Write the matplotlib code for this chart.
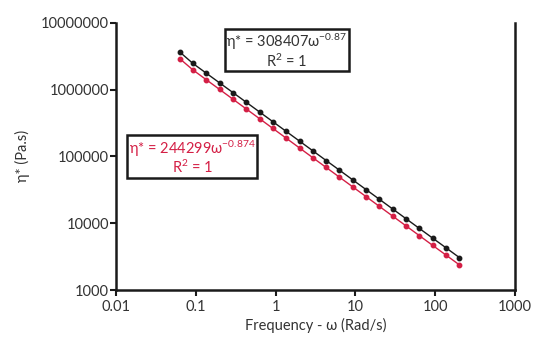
import matplotlib
matplotlib.use("Agg")
import matplotlib.pyplot as plt
from matplotlib.ticker import FixedLocator, FixedFormatter, NullLocator

plt.rcParams['font.family'] = ['Lato', 'DejaVu Sans']
plt.rcParams['mathtext.fontset'] = 'custom'
plt.rcParams['mathtext.rm'] = 'Lato'
plt.rcParams['mathtext.it'] = 'Lato:italic'

freq = [0.0628, 0.0922, 0.1354, 0.1989, 0.2920, 0.4289, 0.6298, 0.9249, 1.358, 1.994,
        2.929, 4.301, 6.316, 9.275, 13.62, 20.00, 29.37, 43.13, 63.34, 93.01, 136.6, 200.6]
eta_black = [3.65e6, 2.452e6, 1.755e6, 1.256e6, 9.01e5, 6.45e5, 4.61e5, 3.30e5, 2.363e5, 1.691e5,
             1.210e5, 8.66e4, 6.21e4, 4.44e4, 3.18e4, 2.276e4, 1.629e4, 1.166e4, 8.34e3, 5.97e3,
             4.28e3, 3.06e3]
eta_red = [2.90e6, 1.962e6, 1.401e6, 1.002e6, 7.17e5, 5.12e5, 3.66e5, 2.616e5, 1.870e5, 1.336e5,
           9.54e4, 6.82e4, 4.88e4, 3.49e4, 2.494e4, 1.782e4, 1.274e4, 9.10e3, 6.51e3, 4.65e3,
           3.33e3, 2.38e3]

x_ticks = [0.01, 0.1, 1, 10, 100, 1000]
x_labels = ['0.01', '0.1', '1', '10', '100', '1000']
y_ticks = [1e3, 1e4, 1e5, 1e6, 1e7]
y_labels = ['1000', '10000', '100000', '1000000', '10000000']

black = '#1a1a1a'
red = '#d41f45'
txt = '#333333'

fig = plt.figure(figsize=(5.47, 3.42), dpi=100)
ax = fig.add_axes([116/547, 1-290/342, (515-116)/547, (290-22.7)/342])
ax.set_xscale('log')
ax.set_yscale('log')

ax.plot(freq, eta_black, '-o', color=black, lw=1.0, ms=3.2, zorder=3)
ax.plot(freq, eta_red, '-o', color=red, lw=1.0, ms=3.2, zorder=3)

ax.set_xlim(0.01, 1000)
ax.set_ylim(1e3, 1e7)
ax.xaxis.set_major_locator(FixedLocator(x_ticks))
ax.xaxis.set_major_formatter(FixedFormatter(x_labels))
ax.yaxis.set_major_locator(FixedLocator(y_ticks))
ax.yaxis.set_major_formatter(FixedFormatter(y_labels))
ax.xaxis.set_minor_locator(NullLocator())
ax.yaxis.set_minor_locator(NullLocator())

for s in ['left', 'bottom', 'right']:
    ax.spines[s].set_linewidth(1.8)
    ax.spines[s].set_color(black)
ax.spines['top'].set_visible(False)
ax.tick_params(axis='both', direction='out', length=4, width=1.5, color=black,
               labelsize=10.5, labelcolor=txt, pad=1)
ax.tick_params(axis='x', pad=3)

ax.set_xlabel('Frequency - ω (Rad/s)', fontsize=10.5, color=txt, labelpad=3)
ax.set_ylabel('η* (Pa.s)', fontsize=10.5, color=txt, labelpad=8)

ax.text(0.428, 0.895, 'η* = 308407ω$^{-0.87}$\nR$^{2}$ = 1', transform=ax.transAxes,
        ha='center', va='center', fontsize=10.5, color=txt, linespacing=1.0,
        bbox=dict(boxstyle='square,pad=0.1', fc='white', ec=black, lw=1.8))
ax.text(0.191, 0.495, 'η* = 244299ω$^{-0.874}$\nR$^{2}$ = 1', transform=ax.transAxes,
        ha='center', va='center', fontsize=10.5, color=red, linespacing=1.0,
        bbox=dict(boxstyle='square,pad=0.1', fc='white', ec=black, lw=1.8))

fig.savefig('out.png', dpi=100)
